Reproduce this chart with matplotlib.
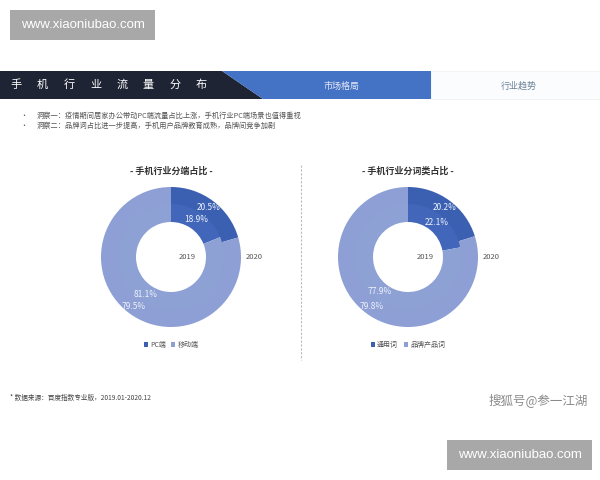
import matplotlib
matplotlib.use("Agg")
import matplotlib.pyplot as plt
from matplotlib.patches import Polygon, Rectangle

plt.rcParams['font.family'] = ['Noto Sans CJK SC', 'DejaVu Sans']

# data
years = ['2019', '2020']
end_labels = ['PC端', '移动端']
end_2019 = [18.9, 81.1]
end_2020 = [20.5, 79.5]
word_labels = ['通用词', '品牌产品词']
word_2019 = [22.1, 77.9]
word_2020 = [20.2, 79.8]

header_title = '手机行业流量分布'
tabs = ['市场格局', '行业趋势']
notes = ['洞察一：疫情期间居家办公带动PC端流量占比上涨，手机行业PC端场景也值得重视',
         '洞察二：品牌词占比进一步提高，手机用户品牌教育成熟，品牌间竞争加剧']
source = '* 数据来源：百度指数专业版，2019.01-2020.12'

W, H = 600, 480
fig = plt.figure(figsize=(6, 4.8), dpi=100)
bg = fig.add_axes([0, 0, 1, 1])
bg.set_xlim(0, W)
bg.set_ylim(H, 0)
bg.axis('off')

# watermark boxes
for x0, y0 in [(10, 10), (447, 440)]:
    bg.add_patch(Rectangle((x0, y0), 145, 30, color='#a8a8a8', lw=0))
    bg.text(x0 + 72.5, y0 + 15, 'www.xiaoniubao.com', color='white', fontsize=9.5,
            ha='center', va='center', family=['Liberation Sans', 'DejaVu Sans'])

# header bar
bg.add_patch(Polygon([(0, 71), (222, 71), (263, 99), (0, 99)], closed=True, color='#1f2434', lw=0))
bg.add_patch(Polygon([(222, 71), (431, 71), (431, 99), (263, 99)], closed=True, color='#4472c4', lw=0))
bg.add_patch(Rectangle((431, 71), 169, 28, facecolor='#fbfcfd', edgecolor='#eef0f3', lw=0.5))
for i, ch in enumerate(header_title):
    bg.text(16 + i * 26.5, 85, ch, color='white', fontsize=8, ha='center', va='center')
bg.text(342, 86, tabs[0], color='#e6ecf7', fontsize=6.5, ha='center', va='center')
bg.text(519, 86, tabs[1], color='#6a8196', fontsize=6.5, ha='center', va='center')

# bullet notes
for i, t in enumerate(notes):
    y = 116 + i * 10
    bg.text(24, y, '•', color='#555555', fontsize=5, ha='center', va='center')
    bg.text(37, y, t, color='#555555', fontsize=5.2, ha='left', va='center')

# divider
bg.plot([301, 301], [165, 360], color='#bbbbbb', lw=0.8, ls=(0, (2, 1.5)))

bg.text(10, 398, source, color='#444444', fontsize=4.8, ha='left', va='center')
bg.text(588, 400, '搜狐号@参一江湖', color='#8a8a8a', fontsize=9, ha='right', va='center')


def donut(cx, cy, title, inner, outer, labels, lab_dx):
    ax = fig.add_axes([(cx - 80) / W, (H - cy - 80) / H, 160 / W, 160 / H])
    # inner ring drawn first, outer ring overlaps it slightly to hide the seam
    _, _, t2 = ax.pie(inner, radius=54, startangle=90, counterclock=False,
                      colors=['#4267ba', '#8ea1d5'], autopct='%.1f%%', pctdistance=45 / 54,
                      wedgeprops=dict(width=19, edgecolor='none'))
    wedges, _, t1 = ax.pie(outer, radius=70, startangle=90, counterclock=False,
                           colors=['#3b60b1', '#8d9fd4'], autopct='%.1f%%', pctdistance=62 / 70,
                           wedgeprops=dict(width=17, edgecolor='none'))
    for t in list(t1) + list(t2):
        t.set_color('#eef2fb')
        t.set_fontsize(6)
    ax.set_xlim(-80, 80)
    ax.set_ylim(-80, 80)
    ax.axis('off')
    ax.text(lab_dx, 0, years[0], fontsize=5.5, color='#555555', ha='center', va='center')
    ax.text(83, 0, years[1], fontsize=5.5, color='#555555', ha='center', va='center')
    ax.text(0, 86, title, fontsize=6.5, color='#333333', fontweight='bold',
            ha='center', va='center', clip_on=False)
    ax.legend(wedges, labels, loc='center', bbox_to_anchor=(0.5, -0.05), ncol=2,
              frameon=False, fontsize=5, handlelength=0.6, handleheight=0.6,
              handletextpad=0.3, columnspacing=0.8, labelcolor='#555555')


donut(171, 257, '- 手机行业分端占比 -', end_2019, end_2020, end_labels, 16)
donut(408, 257, '- 手机行业分词类占比 -', word_2019, word_2020, word_labels, 17)

fig.savefig('out.png', dpi=100)
